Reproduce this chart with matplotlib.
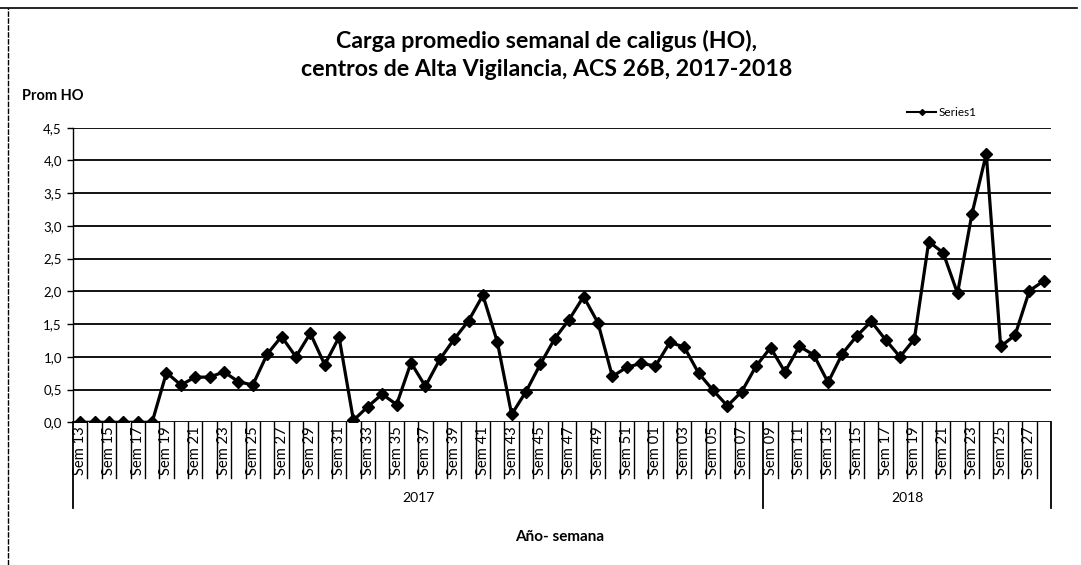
import matplotlib
matplotlib.use("Agg")
import matplotlib.pyplot as plt
from matplotlib.lines import Line2D
import matplotlib.transforms as mtransforms

plt.rcParams['font.family'] = ['Lato', 'DejaVu Sans']

# ---- data ----
weeks_2017 = [f"Sem {w:02d}" for w in range(13, 53)] + [f"Sem {w:02d}" for w in range(1, 9)]
weeks_2018 = [f"Sem {w:02d}" for w in range(9, 29)]
values_2017 = [0, 0, 0, 0, 0, 0,
               0.76, 0.57, 0.69, 0.69, 0.77, 0.62, 0.57, 1.04, 1.31, 1.00,
               1.36, 0.88, 1.30, 0.03, 0.24, 0.43, 0.27, 0.91, 0.55, 0.96,
               1.27, 1.55, 1.94, 1.23, 0.12, 0.47, 0.89, 1.28, 1.57, 1.92,
               1.52, 0.70, 0.84, 0.90,
               0.86, 1.22, 1.15, 0.75, 0.49, 0.25, 0.47, 0.86]
values_2018 = [1.14, 0.77, 1.16, 1.03, 0.61, 1.05, 1.32, 1.54, 1.26, 1.00,
               1.27, 2.76, 2.59, 1.97, 3.18, 4.10, 1.16, 1.33, 2.01, 2.16]
years = ["2017", "2018"]
yticks = [0, 0.5, 1.0, 1.5, 2.0, 2.5, 3.0, 3.5, 4.0, 4.5]
ytick_labels = ["0,0", "0,5", "1,0", "1,5", "2,0", "2,5", "3,0", "3,5", "4,0", "4,5"]
series_name = "Series1"
title = "Carga promedio semanal de caligus (HO),\ncentros de Alta Vigilancia, ACS 26B, 2017-2018"
ylabel = "Prom HO"
xlabel = "Año- semana"

weeks = weeks_2017 + weeks_2018
values = values_2017 + values_2018
n = len(weeks)
x = list(range(n))

W, H = 1081, 565
fig = plt.figure(figsize=(W / 100, H / 100), dpi=100)
ax = fig.add_axes([73 / W, 1 - 422.3 / H, (1051 - 73) / W, (422.3 - 127.7) / H])

# gridlines
for yv in yticks:
    ax.axhline(yv, color='black', lw=1.3, zorder=1)

ax.plot(x, values, color='black', lw=2.3, marker='D', ms=6,
        markerfacecolor='black', markeredgecolor='black', zorder=3, label=series_name)

ax.set_xlim(-0.5, n - 0.5)
ax.set_ylim(0, 4.5)
ax.set_yticks(yticks)
ax.set_yticklabels(ytick_labels, fontsize=9.5)
ax.tick_params(axis='y', length=4, width=1, pad=4, direction='out')

ax.set_xticks(x[::2])
ax.set_xticklabels(weeks[::2], rotation=90, fontsize=10.6)
ax.tick_params(axis='x', length=0, pad=3)

for s in ['top', 'right', 'bottom']:
    ax.spines[s].set_visible(False)
ax.spines['left'].set_linewidth(1.0)

# category boundary lines below axis
trans = mtransforms.blended_transform_factory(ax.transData, ax.transAxes)
cat_bottom = -(478 - 422.3) / (422.3 - 127.7)
year_bottom = -(508 - 422.3) / (422.3 - 127.7)
n17 = len(weeks_2017)
for k in range(n + 1):
    xb = k - 0.5
    if k in (0, n17, n):
        ax.plot([xb, xb], [0, year_bottom], color='black', lw=1.3,
                transform=trans, clip_on=False, zorder=2)
    else:
        ax.plot([xb, xb], [0, cat_bottom], color='black', lw=1.0,
                transform=trans, clip_on=False, zorder=2)

# year labels
year_y = -(498 - 422.3) / (422.3 - 127.7)
ax.text((n17 - 1) / 2, year_y, years[0], transform=trans, ha='center', va='center', fontsize=10)
ax.text((n17 + n - 1) / 2, year_y, years[1], transform=trans, ha='center', va='center', fontsize=10)

# axis titles
fig.text(560 / W, 1 - 537 / H, xlabel, ha='center', va='center', fontsize=11, fontweight='bold')
fig.text(22 / W, 1 - 96 / H, ylabel, ha='left', va='center', fontsize=10.5, fontweight='bold')

# title
fig.text(547 / W, 1 - 55 / H, title, ha='center', va='center', fontsize=16.7,
         fontweight='bold', linespacing=1.4)

# legend
leg = ax.legend(loc='center right', bbox_to_anchor=(0.93, 1.05), frameon=False,
                fontsize=8.5, handlelength=2.5, handletextpad=0.2, borderpad=0,
                markerscale=0.5)
for h in leg.legend_handles:
    h.set_linewidth(1.5)

# outer frame lines
fig.add_artist(Line2D([0, 1077 / W], [1 - 8 / H, 1 - 8 / H], color='black', lw=1.2))
fig.add_artist(Line2D([8 / W, 8 / W], [0, 1 - 8 / H], color='black', lw=1.0, ls=(0, (4, 1))))

fig.savefig("out.png", dpi=100)
